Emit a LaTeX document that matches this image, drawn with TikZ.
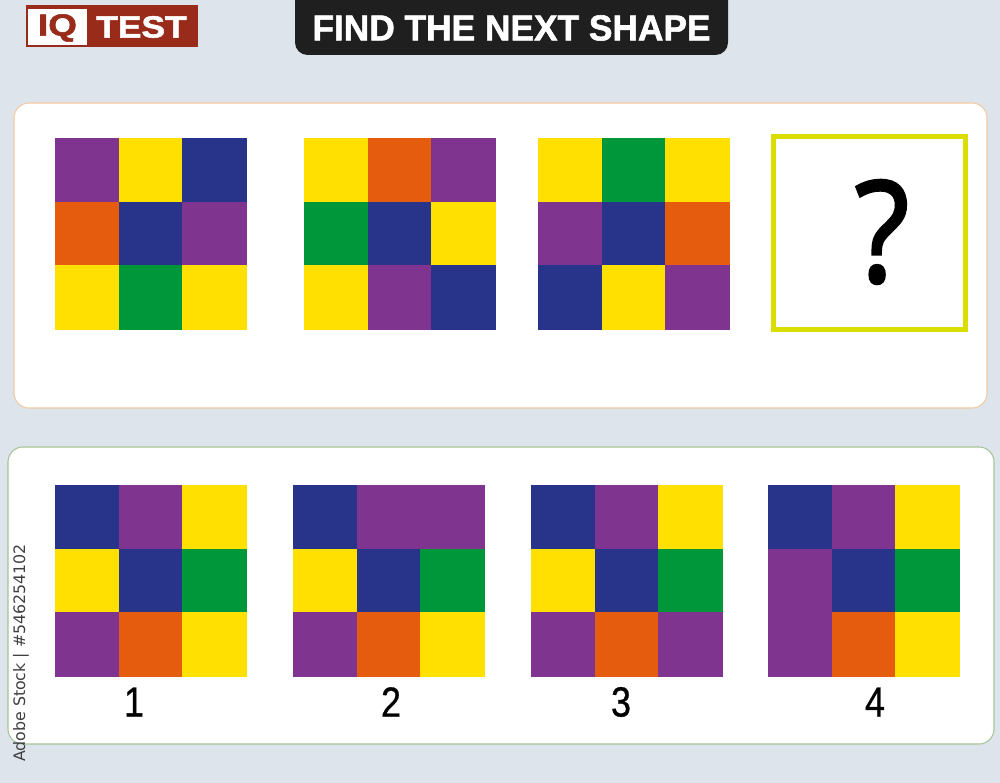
\documentclass[tikz,border=0pt]{standalone}
\usepackage{fontspec}
\setmainfont{Liberation Sans}
\newfontfamily\sidefont{DejaVu Sans}
\newfontfamily\heavyfont[BoldFeatures={FakeBold=1.6}]{Liberation Sans}
\newfontfamily\numfont[FakeBold=0.8]{Liberation Sans}
\newfontfamily\qfont[FakeBold=2]{Open Sans}

\definecolor{pu}{HTML}{7F358F}
\definecolor{ye}{HTML}{FFE000}
\definecolor{bl}{HTML}{28348A}
\definecolor{or}{HTML}{E65C0F}
\definecolor{gr}{HTML}{00963A}
\definecolor{iqred}{HTML}{992B1A}
\definecolor{pagebg}{HTML}{DDE4EC}
\definecolor{qyellow}{HTML}{DADD00}
\definecolor{peach}{HTML}{F2C9A1}
\definecolor{sage}{HTML}{A5C397}

\tikzset{
	cell/.style={inner sep=0pt, outer sep=0pt, minimum size=1.274cm, anchor=north west},
	panel/.style={fill=white, rounded corners=0.3cm, line width=0.6pt},
	numlabel/.style={font=\numfont\fontsize{24}{24}\selectfont}
}

\newcommand{\colorgrid}[4]{%
	\foreach \col [count=\k from 0] in {#4} {
		\pgfmathtruncatemacro{\row}{div(\k,3)}
		\pgfmathtruncatemacro{\clm}{mod(\k,3)}
		\node[cell, fill=\col, draw=\col, line width=0.2pt] (#1-\k) at ({#2+\clm*63.7},{#3+\row*63.7}) {};
	}
}

\begin{document}
\begin{tikzpicture}[x=0.02cm, y=-0.02cm]
	\fill[pagebg] (0,0) rectangle (1000,783);
	\useasboundingbox (0,0) rectangle (1000,783);

	\node[fill=iqred, minimum width=3.44cm, minimum height=0.84cm] (badge) at (112,26) {};
	\node[fill=white, minimum width=1.18cm, minimum height=0.72cm] (iqbox) at (57.5,27) {};
	\node[text=iqred, font=\heavyfont\bfseries\fontsize{17.5}{17.5}\selectfont] (iq) at (57.5,28) {\scalebox{1.2}[1]{IQ}};
	\node[text=white, font=\heavyfont\bfseries\fontsize{17.5}{17.5}\selectfont] (test) at (141.5,27) {\scalebox{1.15}[1]{TEST}};

	\fill[black!88, rounded corners=0.25cm] (295,-15) rectangle (728,55);
	\node[text=white, font=\heavyfont\bfseries\fontsize{20.5}{20.5}\selectfont] (title) at (511.5,28) {\scalebox{0.98}[1]{FIND THE NEXT SHAPE}};

	\draw[panel, draw=peach] (14,103) rectangle (987,408);
	\draw[panel, draw=sage] (8,447) rectangle (994,744);

	\colorgrid{q1}{55}{138}{pu,ye,bl,or,bl,pu,ye,gr,ye}
	\colorgrid{q2}{304}{138}{ye,or,pu,gr,bl,ye,ye,pu,bl}
	\colorgrid{q3}{538}{138}{ye,gr,ye,pu,bl,or,bl,ye,pu}

	\node[draw=qyellow, line width=0.1cm, minimum width=3.84cm, minimum height=3.86cm] (qbox) at (869.5,233) {};
	\node[font=\qfont\fontsize{80}{80}\selectfont] (qmark) at (882,232) {\scalebox{0.9}[1]{?}};

	\colorgrid{a1}{55}{485}{bl,pu,ye,ye,bl,gr,pu,or,ye}
	\colorgrid{a2}{293}{485}{bl,pu,pu,ye,bl,gr,pu,or,ye}
	\colorgrid{a3}{531}{485}{bl,pu,ye,ye,bl,gr,pu,or,pu}
	\colorgrid{a4}{768}{485}{bl,pu,ye,pu,bl,gr,pu,or,ye}

	\node[numlabel] (n1) at (134,702) {\scalebox{0.85}[1]{1}};
	\node[numlabel] (n2) at (391,702) {\scalebox{0.85}[1]{2}};
	\node[numlabel] (n3) at (621,702) {\scalebox{0.85}[1]{3}};
	\node[numlabel] (n4) at (875,702) {\scalebox{0.85}[1]{4}};

	\node[rotate=90, text=black!75, font=\sidefont\fontsize{9}{9}\selectfont] (stockid) at (21,653) {Adobe Stock | \#546254102};
\end{tikzpicture}
\end{document}
